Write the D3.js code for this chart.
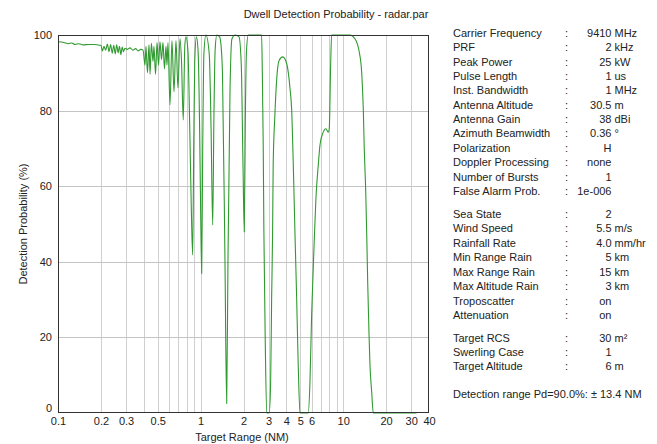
<!DOCTYPE html>
<html>
<head>
<meta charset="utf-8">
<script src="https://cdn.jsdelivr.net/npm/d3@7"></script>
<style>
  html, body { margin: 0; padding: 0; background: #fff; }
  svg { display: block; }
  text { font-family: Arial, "Liberation Sans", sans-serif; fill: #222; }
</style>
</head>
<body>
<svg id="chart" width="657" height="444"></svg>
<script>
// ---- Data ----
const title = "Dwell Detection Probability - radar.par";
const xLabel = "Target Range (NM)";
const yLabel = "Detection Probability (%)";

const rangeNM = [
  0.100, 0.110, 0.118, 0.125, 0.132, 0.140, 0.150, 0.165, 0.180, 0.195,
  0.200, 0.205, 0.210, 0.216, 0.222, 0.228, 0.234, 0.240, 0.246, 0.252,
  0.258, 0.264, 0.270, 0.276, 0.282, 0.288, 0.295, 0.305, 0.320, 0.335,
  0.350, 0.365, 0.380, 0.395, 0.4075, 0.414, 0.424, 0.435, 0.442, 0.452,
  0.464, 0.471, 0.483, 0.495, 0.507, 0.519, 0.532, 0.545, 0.558, 0.572,
  0.581, 0.591, 0.610, 0.630, 0.651, 0.672, 0.694, 0.717, 0.735, 0.756,
  0.775, 0.790, 0.815, 0.840, 0.860, 0.880, 0.895, 0.910, 0.935, 0.960,
  0.985, 1.000, 1.018, 1.035, 1.055, 1.090, 1.150, 1.185, 1.216, 1.240,
  1.265, 1.300, 1.360, 1.400, 1.424, 1.483, 1.524, 1.556, 1.608, 1.660,
  1.750, 1.860, 1.930, 1.985, 2.025, 2.060, 2.100, 2.160, 2.680, 2.710,
  2.750, 2.780, 2.840, 2.910, 3.030, 3.100, 3.150, 3.200, 3.230, 3.320,
  3.420, 3.560, 3.770, 4.020, 4.240, 4.350, 4.470, 4.590, 4.720, 4.840,
  4.980, 5.690, 5.850, 6.010, 6.240, 6.440, 6.690, 6.880, 7.180, 7.570,
  7.860, 7.990, 8.170, 8.300, 11.16, 12.10, 12.97, 13.48, 13.84, 14.06,
  14.38, 14.62, 14.86, 15.17, 15.42, 15.85, 16.26, 32.7
];
const detectionPd = [
  98.2, 98.0, 97.7, 97.9, 97.5, 97.7, 97.4, 97.5, 97.5, 97.3,
  97.3, 95.8, 97.0, 96.0, 97.6, 95.6, 97.5, 95.2, 97.3, 95.0,
  97.4, 95.3, 97.0, 94.8, 96.8, 95.6, 96.5, 96.2, 96.6, 96.0,
  96.4, 95.8, 96.2, 96.0, 92, 97, 90, 97.5, 89.6, 97.8,
  93, 97, 89.6, 98, 92, 98.2, 93.5, 98, 91, 97,
  92, 98, 81.5, 98.5, 85, 98.5, 86, 99, 93, 77.5,
  97, 99.5, 96, 75, 55, 41.8, 70, 93, 99.5, 96,
  75, 55, 36.9, 70, 95, 100, 95, 75, 49.7, 78,
  96, 100, 99.5, 96, 90, 40, 2.5, 40, 85, 99,
  100, 99.5, 92, 65, 47.9, 78, 96, 100, 100, 90.2,
  70.9, 47.9, 19.7, 0, 0, 8.2, 30.2, 47.9, 65.6, 78.8,
  88.4, 93.3, 94.2, 92.4, 85.8, 80.5, 65.6, 47.9, 30.2, 12.7,
  0, 0, 8.2, 25.9, 43.5, 56.7, 65.6, 70.9, 73.9, 75.2,
  74.3, 75.2, 92, 100, 100, 99, 95.5, 90.2, 80.5, 69.9,
  59.3, 47.9, 34.7, 21.4, 12.7, 5.6, 0, 0
];

const xTickLabels = [0.1, 0.2, 0.3, 0.5, 1, 2, 3, 4, 5, 6, 10, 20, 30, 40];
const xGridValues = [0.2,0.3,0.4,0.5,0.6,0.7,0.8,0.9,1,2,3,4,5,6,7,8,9,10,20,30];
const yTickValues = [0, 20, 40, 60, 80, 100];

const paramLabels1 = ["Carrier Frequency","PRF","Peak Power","Pulse Length","Inst. Bandwidth",
  "Antenna Altitude","Antenna Gain","Azimuth Beamwidth","Polarization","Doppler Processing",
  "Number of Bursts","False Alarm Prob."];
const paramValues1 = ["9410","2","25","1","1","30.5","38","0.36","H","none","1","1e-006"];
const paramUnits1  = ["MHz","kHz","kW","us","MHz","m","dBi","°","","","",""];

const paramLabels2 = ["Sea State","Wind Speed","Rainfall Rate","Min Range Rain","Max Range Rain",
  "Max Altitude Rain","Troposcatter","Attenuation"];
const paramValues2 = ["2","5.5","4.0","5","15","3","on","on"];
const paramUnits2  = ["","m/s","mm/hr","km","km","km","",""];

const paramLabels3 = ["Target RCS","Swerling Case","Target Altitude"];
const paramValues3 = ["30","1","6"];
const paramUnits3  = ["m²","","m"];

const summaryText = "Detection range Pd=90.0%: ± 13.4 NM";

// ---- Layout ----
const svg = d3.select("#chart");
const plot = { left: 58, right: 429, top: 35, bottom: 413 };

const x = d3.scaleLog().domain([0.1, 40]).range([plot.left, plot.right]);
const y = d3.scaleLinear().domain([0, 100]).range([plot.bottom, plot.top]);

// Title
svg.append("text").attr("x", 336).attr("y", 18)
  .attr("text-anchor", "middle").attr("font-size", 11).text(title);

// Gridlines
const grid = svg.append("g");
grid.selectAll("line.vx").data(xGridValues).enter().append("line")
  .attr("x1", d => Math.round(x(d)) + 0.5).attr("x2", d => Math.round(x(d)) + 0.5)
  .attr("y1", plot.top).attr("y2", plot.bottom)
  .attr("stroke", "#cfcfcf").attr("stroke-width", 1);
grid.selectAll("line.hy").data(yTickValues.filter(v => v > 0 && v < 100)).enter().append("line")
  .attr("x1", plot.left).attr("x2", plot.right)
  .attr("y1", d => Math.round(y(d)) + 0.5).attr("y2", d => Math.round(y(d)) + 0.5)
  .attr("stroke", "#c4c4c4").attr("stroke-width", 1);

// Curve
svg.append("clipPath").attr("id", "clip").append("rect")
  .attr("x", plot.left).attr("y", plot.top - 1)
  .attr("width", plot.right - plot.left).attr("height", plot.bottom - plot.top + 2);

const pts = rangeNM.map((r, i) => [r, detectionPd[i]]);
const line = d3.line().x(d => x(d[0])).y(d => y(d[1])).curve(d3.curveMonotoneX);
svg.append("path").datum(pts)
  .attr("clip-path", "url(#clip)")
  .attr("d", line)
  .attr("fill", "none").attr("stroke", "#2f9a2f").attr("stroke-width", 1.1);

// Frame
svg.append("rect").attr("x", plot.left + 0.5).attr("y", plot.top + 0.5)
  .attr("width", plot.right - plot.left - 1).attr("height", plot.bottom - plot.top - 1)
  .attr("fill", "none").attr("stroke", "#333").attr("stroke-width", 1);

// Axes (labels only, using d3 axes)
const xAxis = d3.axisBottom(x).tickValues(xTickLabels).tickSize(0).tickPadding(3)
  .tickFormat(d => String(d));
const gx = svg.append("g").attr("transform", `translate(0,${plot.bottom + 1})`).call(xAxis);
gx.select(".domain").remove();
gx.selectAll("text").attr("font-size", 11).attr("fill", "#222")
  .style("font-family", "Arial, 'Liberation Sans', sans-serif");

const yAxis = d3.axisLeft(y).tickValues(yTickValues).tickSize(0).tickPadding(6)
  .tickFormat(d => String(d));
const gy = svg.append("g").attr("transform", `translate(${plot.left},0)`).call(yAxis);
gy.select(".domain").remove();
gy.selectAll("text").attr("font-size", 11).attr("fill", "#222")
  .style("font-family", "Arial, 'Liberation Sans', sans-serif");
gy.selectAll(".tick").filter(d => d === 0).select("text").attr("dy", "-0.1em");

// Axis titles
svg.append("text").attr("x", 242).attr("y", 441)
  .attr("text-anchor", "middle").attr("font-size", 11).text(xLabel);
svg.append("text").attr("transform", `translate(27,224) rotate(-90)`)
  .attr("text-anchor", "middle").attr("font-size", 11).text(yLabel);

// Parameter panel
const panel = svg.append("g").attr("font-size", 11);
const colLabel = 453, colColon = 565, colValue = 611.5, colUnit = 614.5;
function drawBlock(labels, values, units, startY, step) {
  labels.forEach((lab, i) => {
    const yy = startY + i * step;
    panel.append("text").attr("x", colLabel).attr("y", yy).text(lab);
    panel.append("text").attr("x", colColon).attr("y", yy).text(":");
    panel.append("text").attr("x", colValue).attr("y", yy).attr("text-anchor", "end").text(values[i]);
    if (units[i]) panel.append("text").attr("x", colUnit).attr("y", yy).text(units[i]);
  });
}
drawBlock(paramLabels1, paramValues1, paramUnits1, 37, 14.35);
drawBlock(paramLabels2, paramValues2, paramUnits2, 218, 14.45);
drawBlock(paramLabels3, paramValues3, paramUnits3, 341.5, 14.4);
panel.append("text").attr("x", colLabel).attr("y", 398).text(summaryText);
</script>
</body>
</html>
